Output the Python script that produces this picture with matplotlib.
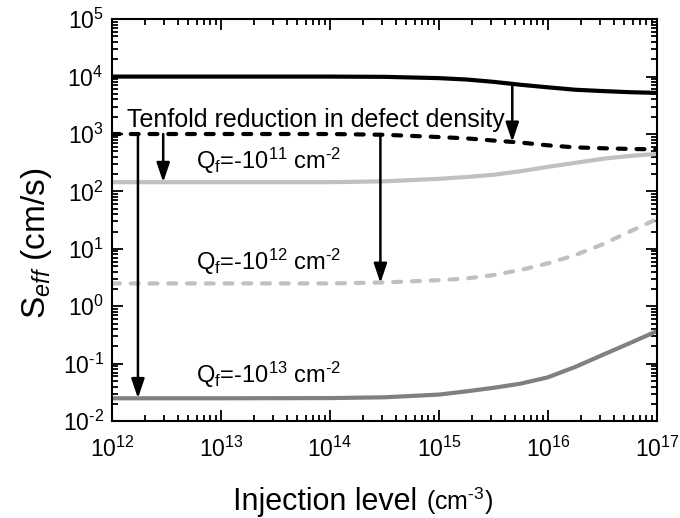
import numpy as np
import matplotlib
matplotlib.use('Agg')
import matplotlib.pyplot as plt
from matplotlib.ticker import LogLocator, NullFormatter, FuncFormatter

plt.rcParams['font.family'] = ['Liberation Sans', 'DejaVu Sans']
plt.rcParams['mathtext.fontset'] = 'custom'
plt.rcParams['mathtext.rm'] = 'Liberation Sans'
plt.rcParams['mathtext.it'] = 'Liberation Sans:italic'
plt.rcParams['mathtext.default'] = 'regular'

# injection level grid (cm^-3) and S_eff curves (cm/s)
inj = [1e12, 1e13, 1e14, 3.16e14, 1e15, 1.78e15, 3.16e15, 5.62e15,
       1e16, 1.78e16, 3.16e16, 5.62e16, 1e17]
s_ref = [1.0e4, 1.0e4, 1.0e4, 9.9e3, 9.4e3, 8.9e3, 8.1e3, 7.2e3,
         6.5e3, 5.9e3, 5.6e3, 5.35e3, 5.2e3]
s_tenfold = [1000, 1000, 1000, 970, 885, 840, 770, 710,
             635, 585, 565, 550, 540]
s_q11 = [145, 145, 145, 150, 166, 178, 195, 225,
         268, 315, 370, 415, 450]
s_q12 = [2.5, 2.5, 2.5, 2.6, 2.85, 3.05, 3.5, 4.3,
         5.6, 7.8, 12, 20, 33]
s_q13 = [0.025, 0.025, 0.0252, 0.026, 0.029, 0.033, 0.038, 0.045,
         0.058, 0.088, 0.142, 0.228, 0.37]

# arrows: (x, y_start, y_end)
arrows = [(4.7e15, 7.4e3, 7.3e2),
          (2.9e14, 1000, 2.55),
          (2.95e12, 1000, 145),
          (1.73e12, 1000, 0.025)]

labels = [r'Q$_{f}$=-10$^{11}$ cm$^{\text{-}2}$',
          r'Q$_{f}$=-10$^{12}$ cm$^{\text{-}2}$',
          r'Q$_{f}$=-10$^{13}$ cm$^{\text{-}2}$']
label_x = [5.9e12, 5.9e12, 5.9e12]
label_y = [245, 4.3, 0.046]


def pow10(v, pos):
    e = int(round(np.log10(v)))
    if e < 0:
        return r'10$^{\text{-}%d}$' % -e
    return r'10$^{%d}$' % e


fig = plt.figure(figsize=(6.8, 5.18), dpi=100)
ax = fig.add_axes([0.1647, 0.187, 0.8015, 0.776])

dash = (0, (1.9, 2.6))
ax.plot(inj, s_ref, color='black', lw=3.0)
ax.plot(inj, s_tenfold, color='black', lw=3.0, ls=dash, dash_capstyle='round')
ax.plot(inj, s_q11, color='#c0c0c0', lw=3.0)
ax.plot(inj, s_q12, color='#c0c0c0', lw=3.0, ls=dash, dash_capstyle='round')
ax.plot(inj, s_q13, color='#808080', lw=3.0)

for x, y0, y1 in arrows:
    ax.annotate('', xy=(x, y1), xytext=(x, y0),
                arrowprops=dict(arrowstyle='-|>,head_length=0.65,head_width=0.22',
                                mutation_scale=18, lw=1.8, color='black',
                                shrinkA=0, shrinkB=0))

ax.text(1.37e12, 1350, 'Tenfold reduction in defect density', fontsize=18)
for t, x, y in zip(labels, label_x, label_y):
    ax.text(x, y, t, fontsize=17)

ax.set_xscale('log')
ax.set_yscale('log')
ax.set_xlim(1e12, 1e17)
ax.set_ylim(1e-2, 1e5)

for a in (ax.xaxis, ax.yaxis):
    a.set_major_locator(LogLocator(base=10, numticks=20))
    a.set_major_formatter(FuncFormatter(pow10))
    a.set_minor_locator(LogLocator(base=10, subs=np.arange(2, 10), numticks=20))
    a.set_minor_formatter(NullFormatter())
ax.tick_params(which='both', direction='in', top=True, right=True, width=1.3)
ax.tick_params(which='major', length=8, labelsize=16.5)
ax.tick_params(which='minor', length=4)
ax.tick_params(axis='x', which='major', pad=11)
ax.tick_params(axis='y', which='major', pad=6)
for sp in ax.spines.values():
    sp.set_linewidth(1.5)

ax.set_ylabel(r'S$_{\it{eff}}$ (cm/s)', fontsize=24)
ax.yaxis.set_label_coords(-0.107, 0.443)
fig.text(233 / 680, 8 / 518, 'Injection level', fontsize=22, va='baseline')
fig.text(426 / 680, 8 / 518, r'(cm$^{\text{-}3}$)', fontsize=18, va='baseline')

fig.savefig('out.png', dpi=100)
